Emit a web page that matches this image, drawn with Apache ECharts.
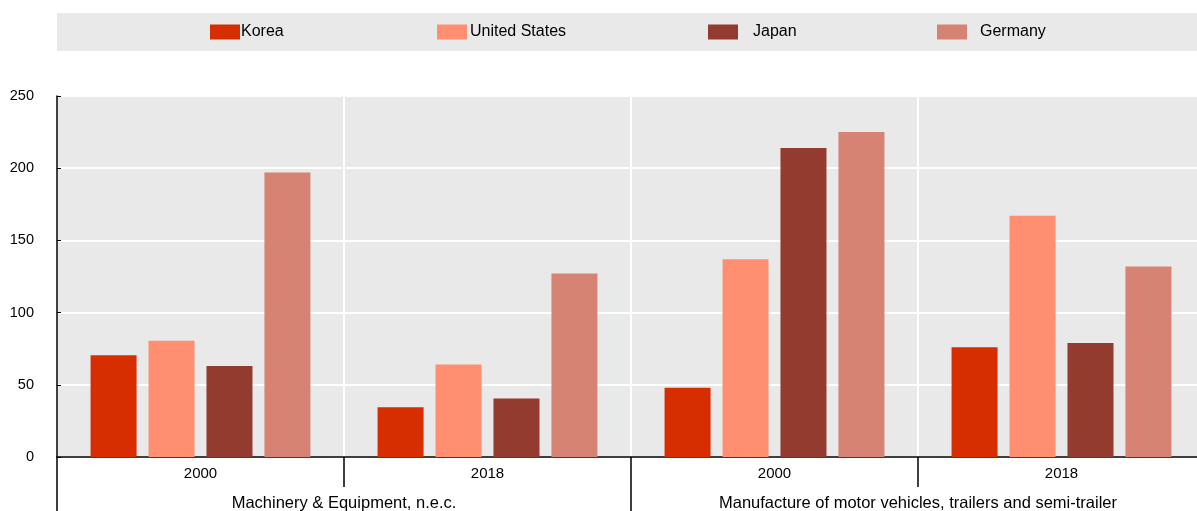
<!DOCTYPE html>
<html><head><meta charset="utf-8">
<script src="https://cdn.jsdelivr.net/npm/echarts@6/dist/echarts.min.js"></script>
<style>html,body{margin:0;padding:0;background:#fff}#c{width:1197px;height:511px}</style>
</head><body><div id="c"></div>
<script>
var years = ['2000', '2018', '2000', '2018'];
var sectors = ['Machinery & Equipment, n.e.c.', 'Manufacture of motor vehicles, trailers and semi-trailer'];
var seriesNames = ['Korea', 'United States', 'Japan', 'Germany'];
var korea = [70.5, 34.5, 48, 76];
var unitedStates = [80.5, 64, 137, 167];
var japan = [63, 40.5, 214, 79];
var germany = [197, 127, 225, 132];
var yTicks = [0, 50, 100, 150, 200, 250];
var colors = ['#D62E00', '#FF8F70', '#943B2F', '#D78374'];

var FONT = 'Liberation Sans, Arial, sans-serif';
var chart = echarts.init(document.getElementById('c'));
var values = [korea, unitedStates, japan, germany];
var legendLeft = [210, 437, 708, 937];
var legendPad = [-4, -2, 10, 8];
var legends = seriesNames.map(function (n, i) {
  return {
    data: [n], left: legendLeft[i], top: 24, itemWidth: 30, itemHeight: 15,
    itemGap: 0, padding: 0, icon: 'rect',
    textStyle: {fontFamily: FONT, fontSize: 16, color: '#000', padding: [1, 0, 0, legendPad[i]]}
  };
});
chart.setOption({
  animation: false,
  graphic: [{type: 'rect', shape: {x: 57, y: 13, width: 1140, height: 38}, style: {fill: '#e9e9e9'}, z: -1}],
  legend: legends,
  grid: {left: 57, width: 1148, top: 96, height: 361, show: true, backgroundColor: '#e9e9e9', borderWidth: 0,
    outerBoundsMode: 'none', containLabel: false},
  xAxis: [{
    type: 'category', data: years, position: 'bottom',
    axisLine: {lineStyle: {color: '#000', width: 1.5}},
    axisTick: {show: true, length: 30, lineStyle: {color: '#000', width: 1.5}},
    axisLabel: {fontFamily: FONT, fontSize: 15, color: '#000', margin: 9},
    splitLine: {show: true, lineStyle: {color: '#fff', width: 2}}
  }, {
    type: 'category', data: sectors, position: 'bottom',
    axisLine: {show: false},
    axisTick: {show: true, length: 54, lineStyle: {color: '#000', width: 1.5}},
    axisLabel: {fontFamily: FONT, fontSize: 16.5, color: '#000', margin: 38, interval: 0}
  }],
  yAxis: {
    type: 'value', min: 0, max: 250, interval: 50,
    axisLine: {show: true, lineStyle: {color: '#000', width: 1.5}},
    axisTick: {show: true, inside: true, length: 4, lineStyle: {color: '#000'}},
    axisLabel: {fontFamily: FONT, fontSize: 14.5, color: '#000', margin: 23,
      formatter: function (v) { return yTicks.indexOf(v) >= 0 ? String(v) : ''; }},
    splitLine: {show: true, lineStyle: {color: '#fff', width: 2}}
  },
  series: seriesNames.map(function (n, i) {
    return {
      name: n, type: 'bar', data: values[i], xAxisIndex: 0,
      barWidth: 46, barGap: '26%', barCategoryGap: '23%',
      itemStyle: {color: colors[i]}
    };
  })
});
</script></body></html>
